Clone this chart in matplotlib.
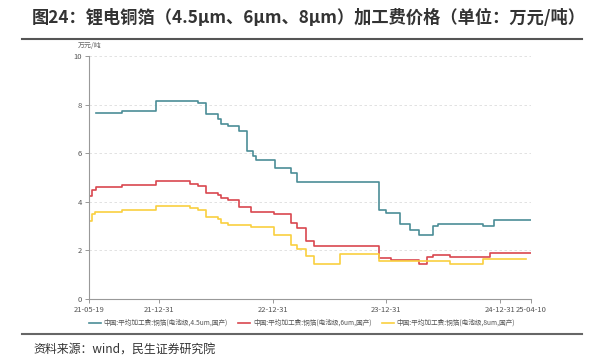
import numpy as np
import pandas as pd
import matplotlib
matplotlib.use("Agg")
import matplotlib.pyplot as plt
import matplotlib.dates as mdates

plt.rcParams["font.family"] = ["Noto Sans CJK SC", "DejaVu Sans"]

# 4.5um copper foil processing fee (万元/吨)
dates_45 = ["2021-06-10", "2021-09-01", "2021-12-20", "2022-05-04", "2022-05-31",
            "2022-07-07", "2022-07-18", "2022-08-08", "2022-09-13", "2022-10-08",
            "2022-10-28", "2022-11-07", "2023-01-08", "2023-02-28", "2023-03-18",
            "2023-12-08", "2023-12-29", "2024-02-15", "2024-03-18", "2024-04-14",
            "2024-05-30", "2024-06-14", "2024-11-08", "2024-12-13", "2025-04-10"]
vals_45 = [7.65, 7.75, 8.15, 8.07, 7.6, 7.4, 7.2, 7.1, 6.9, 6.1, 5.88, 5.7, 5.4,
           5.2, 4.8, 3.66, 3.53, 3.1, 2.85, 2.65, 3.0, 3.1, 3.02, 3.25, 3.25]

# 6um
dates_6 = ["2021-05-19", "2021-05-30", "2021-06-10", "2021-09-01", "2021-12-20",
           "2022-04-08", "2022-05-04", "2022-05-31", "2022-07-07", "2022-07-18",
           "2022-08-08", "2022-09-13", "2022-10-22", "2023-01-05", "2023-02-28",
           "2023-03-18", "2023-04-17", "2023-05-13", "2023-12-08", "2024-01-14",
           "2024-04-14", "2024-05-11", "2024-05-30", "2024-07-24", "2024-11-30",
           "2025-04-10"]
vals_6 = [4.25, 4.5, 4.62, 4.68, 4.86, 4.73, 4.66, 4.37, 4.29, 4.17, 4.06, 3.8,
          3.59, 3.5, 3.11, 2.91, 2.4, 2.2, 1.67, 1.6, 1.44, 1.72, 1.81, 1.71,
          1.9, 1.9]

# 8um
dates_8 = ["2021-05-19", "2021-05-30", "2021-06-07", "2021-09-01", "2021-12-20",
           "2022-04-08", "2022-05-04", "2022-05-31", "2022-07-07", "2022-07-18",
           "2022-08-08", "2022-10-22", "2023-01-05", "2023-02-28", "2023-03-18",
           "2023-04-17", "2023-05-13", "2023-08-05", "2023-12-08", "2024-07-24",
           "2024-11-08", "2025-03-25"]
vals_8 = [3.22, 3.5, 3.6, 3.66, 3.84, 3.73, 3.66, 3.39, 3.28, 3.14, 3.05, 2.95,
          2.63, 2.22, 2.05, 1.77, 1.45, 1.84, 1.55, 1.45, 1.64, 1.64]

labels = ["中国:平均加工费:铜箔(电池级,4.5um,国产)",
          "中国:平均加工费:铜箔(电池级,6um,国产)",
          "中国:平均加工费:铜箔(电池级,8um,国产)"]
colors = ["#4b8d97", "#d9474f", "#f9d03f"]

tick_dates = ["2021-05-19", "2021-12-31", "2022-12-31", "2023-12-31",
              "2024-12-31", "2025-04-10"]
tick_labels = ["21-05-19", "21-12-31", "22-12-31", "23-12-31", "24-12-31", "25-04-10"]

fig = plt.figure(figsize=(6.08, 3.64), dpi=100)
ax = fig.add_axes([89 / 608, 1 - 299 / 364, (531 - 89) / 608, (299 - 56) / 364])

series = [(dates_45, vals_45), (dates_6, vals_6), (dates_8, vals_8)]
for (d, v), lab, c in zip(series, labels, colors):
    ax.plot(pd.to_datetime(d), v, drawstyle="steps-post", color=c, lw=1.2, label=lab)

ax.set_ylim(0, 10)
ax.set_yticks(range(0, 11, 2))
ax.set_xlim(pd.Timestamp("2021-05-19"), pd.Timestamp("2025-04-10"))
ax.set_xticks(pd.to_datetime(tick_dates))
ax.set_xticklabels(tick_labels)
ax.tick_params(axis="both", labelsize=5.5, colors="#888888", length=3, width=0.6,
               labelcolor="#555555", pad=2)
ax.grid(axis="y", linestyle=(0, (3, 3)), color="#dddddd", lw=0.6)
for s in ["top", "right"]:
    ax.spines[s].set_visible(False)
for s in ["left", "bottom"]:
    ax.spines[s].set_color("#999999")
    ax.spines[s].set_linewidth(0.8)

fig.text(78 / 608, 1 - 46 / 364, "万元/吨", fontsize=5, color="#666666",
         ha="left", va="center")

leg = fig.legend(loc="center", bbox_to_anchor=(302 / 608, 1 - 323 / 364), ncol=3,
                 frameon=False, fontsize=4.8, handlelength=1.8, columnspacing=1.6,
                 handletextpad=0.4)
for t in leg.get_texts():
    t.set_color("#555555")

fig.text(32 / 608, 1 - 18 / 364, "图24：锂电铜箔（4.5μm、6μm、8μm）加工费价格（单位：万元/吨）",
         fontsize=12.4, fontweight="bold", color="#333333", va="center", ha="left")
fig.add_artist(plt.Line2D([22 / 608, 582 / 608], [1 - 39 / 364, 1 - 39 / 364],
                          color="#555555", lw=1.5))
fig.add_artist(plt.Line2D([22 / 608, 582 / 608], [1 - 334 / 364, 1 - 334 / 364],
                          color="#666666", lw=1.5))
fig.text(33 / 608, 1 - 349 / 364, "资料来源：wind，民生证券研究院", fontsize=8.6,
         color="#333333", va="center", ha="left")

fig.savefig("out.png", dpi=100)
